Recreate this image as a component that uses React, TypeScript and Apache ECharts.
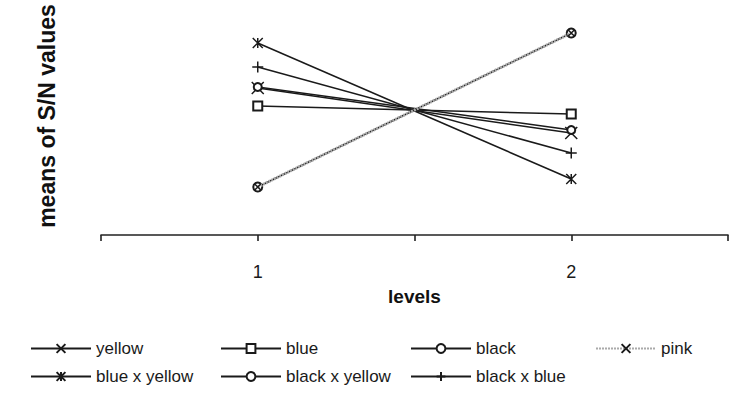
import React, { useEffect, useRef } from "react";
import * as echarts from "echarts";

const levels = [1, 2];
const xTickLabels = ["1", "2"];
const seriesNames = ["yellow", "blue", "black", "pink", "blue x yellow", "black x yellow", "black x blue"];
const yellow = [14.7, 10.2];
const blue = [12.9, 12.1];
const black = [4.8, 20.2];
const pink = [4.8, 20.2];
const blueXYellow = [19.2, 5.6];
const blackXYellow = [14.8, 10.5];
const blackXBlue = [16.8, 8.2];

const FONT = '"Liberation Sans", Arial, sans-serif';
const INK = "#1a1a1a";

const X_PATH = "path://M0,0L10,10M10,0L0,10";
const STAR_PATH = "path://M0,0L10,10M10,0L0,10M5,0L5,10";
const PLUS_PATH = "path://M5,0L5,10M0,5L10,5";

export default function App() {
  const ref = useRef<HTMLDivElement>(null);
  useEffect(() => {
    document.body.style.margin = "0";
    const chart = echarts.init(ref.current!, undefined, { renderer: "svg" });
    const pts = (vals: number[]) => levels.map((l, i) => [l, vals[i]]);
    const strokeItem = { color: INK, borderColor: INK, borderWidth: 1.5 };
    const emptyItem = { color: INK, borderWidth: 1.3 };
    const solid = { color: INK, width: 1.5 };
    const defs: any[] = [
      { name: "yellow", vals: yellow, symbol: X_PATH, size: 12, item: strokeItem, line: solid, z: 2 },
      { name: "blue", vals: blue, symbol: "emptyRect", size: 9, item: emptyItem, line: solid, z: 2 },
      { name: "black", vals: black, symbol: "emptyCircle", size: 9, item: emptyItem, line: solid, z: 2 },
      { name: "pink", vals: pink, symbol: X_PATH, size: 6, item: strokeItem, line: { color: "#aaa", width: 3, type: [2, 1] }, z: 3 },
      { name: "blue x yellow", vals: blueXYellow, symbol: STAR_PATH, size: 10, item: strokeItem, line: solid, z: 2 },
      { name: "black x yellow", vals: blackXYellow, symbol: "emptyCircle", size: 8, item: emptyItem, line: solid, z: 2 },
      { name: "black x blue", vals: blackXBlue, symbol: PLUS_PATH, size: 11, item: strokeItem, line: solid, z: 2 },
    ];
    const legendPos = [
      [30, 340], [220, 340], [410, 340], [595, 340],
      [30, 368], [220, 368], [410, 368],
    ];
    chart.setOption({
      animation: false,
      backgroundColor: "#fff",
      grid: { left: 101, right: 11, top: 10, bottom: 172, containLabel: false, outerBoundsMode: "none" },
      xAxis: {
        type: "value",
        min: 0.5,
        max: 2.5,
        interval: 0.5,
        axisLine: { show: true, lineStyle: { color: "#222", width: 1.6 } },
        axisTick: { show: true, length: 6, lineStyle: { color: "#222", width: 1.6 } },
        axisLabel: {
          formatter: (v: number) => {
            const i = levels.indexOf(v);
            return i >= 0 ? xTickLabels[i] : "";
          },
          fontSize: 18,
          color: INK,
          fontFamily: FONT,
          margin: 28,
        },
        splitLine: { show: false },
        name: "levels",
        nameLocation: "middle",
        nameGap: 52,
        nameTextStyle: { fontWeight: "bold", fontSize: 19, color: "#111", fontFamily: FONT },
      },
      yAxis: { type: "value", min: 0, max: 22.5, show: false },
      graphic: [
        {
          type: "text",
          x: 47,
          y: 116,
          rotation: Math.PI / 2,
          style: {
            text: "means of S/N values",
            font: `bold 23px ${FONT}`,
            fontSize: 23,
            fontWeight: "bold",
            fontFamily: FONT,
            fill: "#111",
            align: "center",
            verticalAlign: "middle",
            textAlign: "center",
            textVerticalAlign: "middle",
          },
        },
      ],
      legend: seriesNames.map((n, i) => ({
        data: [n],
        left: legendPos[i][0],
        top: legendPos[i][1],
        padding: 0,
        itemWidth: 60,
        itemHeight: 11,
        textStyle: { fontSize: 17, color: INK, fontFamily: FONT },
        selectedMode: false,
      })),
      series: defs.map((d) => ({
        name: d.name,
        type: "line",
        data: pts(d.vals),
        symbol: d.symbol,
        symbolSize: d.size,
        showSymbol: true,
        itemStyle: d.item,
        lineStyle: d.line,
        z: d.z,
        emphasis: { disabled: true },
      })),
    });
    return () => chart.dispose();
  }, []);
  return <div ref={ref} style={{ width: 739, height: 407 }} />;
}
